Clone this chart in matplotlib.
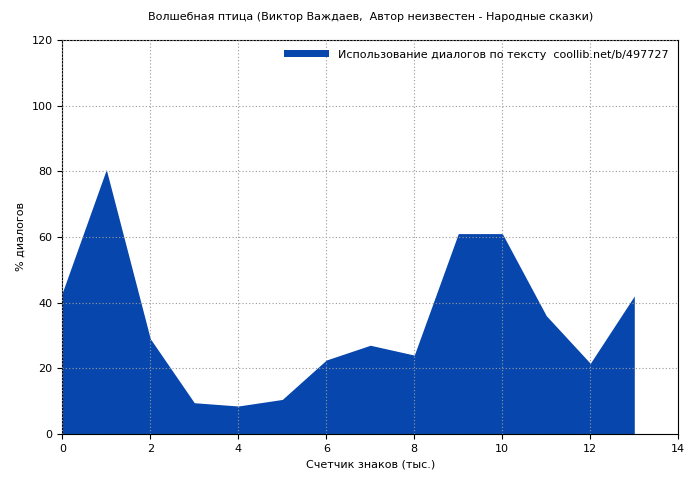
import matplotlib
matplotlib.use("Agg")
import matplotlib.pyplot as plt

x_thousands = [0, 1, 2, 3, 4, 5, 6, 7, 8, 9, 10, 11, 12, 13]
dialog_pct = [43, 80.5, 29, 9.5, 8.5, 10.5, 22.5, 27, 24, 61, 61, 36, 21.5, 42]

plt.rcParams['font.family'] = ['DejaVu Sans']
plt.rcParams['font.size'] = 8

fig = plt.figure(figsize=(7, 4.8), dpi=100)
ax = fig.add_axes([0.089, 0.096, 0.88, 0.821])
ax.fill_between(x_thousands, dialog_pct, 0, color='#0747ad', linewidth=0,
                label='Использование диалогов по тексту  coollib.net/b/497727')
ax.set_xlim(0, 14)
ax.set_ylim(0, 120)
ax.set_xticks(range(0, 15, 2))
ax.set_yticks(range(0, 121, 20))
ax.grid(True, color='#999999', linestyle=(0, (1, 2)), linewidth=0.8)
ax.set_axisbelow(False)
ax.set_title('Волшебная птица (Виктор Важдаев,  Автор неизвестен - Народные сказки)', fontsize=8, pad=14)
ax.set_xlabel('Счетчик знаков (тыс.)')
ax.set_ylabel('% диалогов')
ax.legend(loc='upper right', frameon=False, handlelength=4, handleheight=0.6, fontsize=8)
fig.savefig('out.png')
